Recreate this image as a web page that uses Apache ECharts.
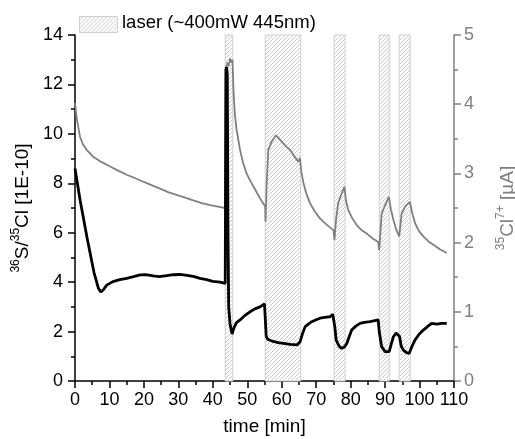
<!DOCTYPE html>
<html>
<head>
<meta charset="utf-8">
<script src="https://cdn.jsdelivr.net/npm/echarts@6/dist/echarts.min.js"></script>
<style>
html,body{margin:0;padding:0;background:#fff;}
#chart{width:515px;height:439px;}
</style>
</head>
<body>
<div id="chart"></div>
<script>
// ---- data ----
const xTicks = [0, 10, 20, 30, 40, 50, 60, 70, 80, 90, 100, 110];
const leftTicks = [0, 2, 4, 6, 8, 10, 12, 14];
const rightTicks = [0, 1, 2, 3, 4, 5];

const laserStart = [43.6, 55.2, 75.2, 88.3, 94.1];
const laserEnd   = [45.8, 65.5, 78.4, 91.2, 97.3];
const laserLabel = 'laser (~400mW 445nm)';

// 36S/35Cl ratio (left axis) - time [min]
const ratioT = [0, 1.5, 3.5, 5.5, 6.8, 7.5, 8.3, 9.2, 11, 13, 15, 17, 18.9, 20.5, 22.7, 24.5, 26.6, 28.5, 30.5, 32.5, 34.3, 36.3, 38.2, 40, 42.1, 43.6,
  43.8, 44.0, 44.2, 44.4, 44.6, 45.0, 45.6, 46.0, 46.8, 47.9, 49.3, 50.8, 52.2, 53.7, 55.0, 55.2,
  55.5, 56.0, 57.5, 59, 60.5, 62.5, 64.4, 65.3, 66.0, 66.8, 67.7, 68.7, 70, 71.1, 72.5, 74, 74.8, 75.1,
  75.4, 75.8, 76.6, 77.4, 78.2, 78.9, 79.6, 80.3, 81.5, 82.7, 84, 85.6, 87, 88.0,
  88.3, 89.0, 90, 91.2, 91.8, 92.4, 93.2, 93.7, 94.2, 94.7, 95.3, 96.2, 97.0, 97.8, 98.7, 99.8, 101.1, 102.3, 103.5, 105, 106.4, 107.9];
const ratioV = [8.6, 7.3, 5.8, 4.4, 3.75, 3.6, 3.7, 3.88, 4.02, 4.1, 4.15, 4.22, 4.29, 4.3, 4.25, 4.22, 4.26, 4.3, 4.31, 4.27, 4.23, 4.15, 4.1, 4.03, 4.0, 3.95,
  12.6, 12.7, 12.4, 6.0, 3.0, 2.3, 1.9, 2.1, 2.35, 2.47, 2.65, 2.8, 2.92, 3.0, 3.12, 3.15,
  1.8, 1.68, 1.6, 1.55, 1.52, 1.48, 1.46, 1.58, 1.9, 2.2, 2.3, 2.4, 2.48, 2.54, 2.57, 2.6, 2.7, 2.76,
  2.2, 1.66, 1.42, 1.32, 1.38, 1.52, 1.8, 2.06, 2.22, 2.33, 2.37, 2.4, 2.44, 2.47,
  2.0, 1.39, 1.19, 1.19, 1.5, 1.79, 1.94, 1.99, 1.8, 1.4, 1.25, 1.15, 1.12, 1.4, 1.66, 1.88, 2.06, 2.2, 2.33, 2.3, 2.33, 2.33];

// 35Cl7+ current (right axis) - time [min]
const currT = [0, 0.5, 1.45, 2.3, 3.4, 5.3, 7.5, 10.2, 12.5, 15, 17.5, 19.8, 22.2, 24.7, 27, 29.5, 32, 34.3, 36.8, 39.2, 41.5, 43.5,
  43.8, 44.2, 44.6, 45.0, 45.4, 45.7, 46.0, 46.4, 46.9, 47.9, 48.8, 49.8, 50.8, 51.8, 52.8, 53.7, 55.2,
  55.3, 55.6, 56.1, 57.1, 58.3, 59.3, 60.5, 61.5, 62.4, 63.6, 64.8, 65.3, 65.6, 66.3, 67.2, 68.2, 69.6, 71.1, 73, 75.0,
  75.3, 75.8, 76.4, 77.4, 78.2, 78.6, 79.3, 80.5, 81.8, 83.2, 84.7, 86.4, 88.0,
  88.3, 89.0, 90.0, 91.1, 91.7, 92.4, 93.3, 94.1, 94.8, 95.8, 97.2, 97.9, 98.7, 99.8, 101.1, 102.5, 104.0, 106, 107.9];
const currV = [4.02, 3.8, 3.53, 3.42, 3.34, 3.24, 3.17, 3.10, 3.04, 2.98, 2.93, 2.88, 2.83, 2.78, 2.73, 2.69, 2.65, 2.61, 2.57, 2.54, 2.52, 2.50,
  4.5, 4.6, 4.55, 4.66, 4.6, 4.64, 4.2, 3.85, 3.63, 3.34, 3.15, 3.0, 2.9, 2.81, 2.72, 2.64, 2.52,
  2.30, 2.8, 3.34, 3.46, 3.55, 3.5, 3.43, 3.38, 3.34, 3.25, 3.17, 3.22, 3.05, 2.86, 2.7, 2.57, 2.45, 2.35, 2.26, 2.18,
  2.04, 2.35, 2.57, 2.71, 2.81, 2.62, 2.47, 2.35, 2.25, 2.18, 2.13, 2.06, 2.01,
  1.89, 2.42, 2.54, 2.66, 2.48, 2.33, 2.18, 2.09, 2.42, 2.52, 2.59, 2.42, 2.28, 2.17, 2.09, 2.02, 1.97, 1.9, 1.85];

// ---- hatch pattern ----
function makeHatch() {
  const s = 4;
  const c = document.createElement('canvas');
  c.width = s; c.height = s;
  const g = c.getContext('2d');
  g.fillStyle = '#ffffff';
  g.fillRect(0, 0, s, s);
  g.strokeStyle = '#c4c4c4';
  g.lineWidth = 0.9;
  g.beginPath();
  g.moveTo(0, s); g.lineTo(s, 0);
  g.moveTo(-1, 1); g.lineTo(1, -1);
  g.moveTo(s - 1, s + 1); g.lineTo(s + 1, s - 1);
  g.stroke();
  return c;
}
const hatch = makeHatch();
const hatchFill = { image: hatch, repeat: 'repeat' };

const FONT = "'Liberation Sans', Arial, sans-serif";
const GRAY = '#808080';

const ratioData = ratioT.map((t, i) => [t, ratioV[i]]);
const currData = currT.map((t, i) => [t, currV[i]]);
const laserData = laserStart.map((s, i) => [s, laserEnd[i]]);

const chart = echarts.init(document.getElementById('chart'), null, { renderer: 'canvas' });
const option = {
  animation: false,
  backgroundColor: '#ffffff',
  grid: { left: 75, right: 61, top: 35, bottom: 58, containLabel: false, outerBoundsMode: 'none' },
  xAxis: {
    type: 'value', min: xTicks[0], max: xTicks[xTicks.length - 1], interval: 10,
    name: 'time [min]', nameLocation: 'middle', nameGap: 36,
    nameTextStyle: { fontFamily: FONT, fontSize: 19, color: '#000' },
    axisLine: { show: true, lineStyle: { color: '#000', width: 1.5 } },
    axisTick: { show: true, inside: false, length: 7, lineStyle: { color: '#000', width: 1.5 } },
    minorTick: { show: true, splitNumber: 2, length: 4, lineStyle: { color: '#000', width: 1.5 } },
    axisLabel: { fontFamily: FONT, fontSize: 18, color: '#000', margin: 10 },
    splitLine: { show: false }
  },
  yAxis: [
    {
      type: 'value', min: leftTicks[0], max: leftTicks[leftTicks.length - 1], interval: 2, position: 'left',
      name: '{sup|36}{n|S/}{sup|35}{n|Cl [1E-10]}', nameLocation: 'middle', nameGap: 33,
      nameTextStyle: {
        fontFamily: FONT, fontSize: 19, color: '#000',
        rich: {
          n: { fontFamily: FONT, fontSize: 19, color: '#000', lineHeight: 22, verticalAlign: 'bottom' },
          sup: { fontFamily: FONT, fontSize: 12, color: '#000', lineHeight: 22, verticalAlign: 'top' }
        }
      },
      axisLine: { show: true, lineStyle: { color: '#000', width: 1.5 } },
      axisTick: { show: true, inside: false, length: 7, lineStyle: { color: '#000', width: 1.5 } },
      minorTick: { show: true, splitNumber: 2, length: 4, lineStyle: { color: '#000', width: 1.5 } },
      axisLabel: { fontFamily: FONT, fontSize: 18, color: '#000', margin: 12 },
      splitLine: { show: false }
    },
    {
      type: 'value', min: rightTicks[0], max: rightTicks[rightTicks.length - 1], interval: 1, position: 'right',
      name: '{sup|35}{n|Cl}{sup|7+}{n| [µA]}', nameLocation: 'middle', nameGap: 41,
      nameTextStyle: {
        fontFamily: FONT, fontSize: 19, color: GRAY,
        rich: {
          n: { fontFamily: FONT, fontSize: 19, color: GRAY, lineHeight: 22, verticalAlign: 'bottom' },
          sup: { fontFamily: FONT, fontSize: 12, color: GRAY, lineHeight: 22, verticalAlign: 'top' }
        }
      },
      axisLine: { show: true, lineStyle: { color: GRAY, width: 1.5 } },
      axisTick: { show: true, inside: false, length: 7, lineStyle: { color: GRAY, width: 1.5 } },
      minorTick: { show: true, splitNumber: 2, length: 4, lineStyle: { color: GRAY, width: 1.5 } },
      axisLabel: { fontFamily: FONT, fontSize: 18, color: GRAY, margin: 10 },
      splitLine: { show: false }
    }
  ],
  series: [
    {
      name: laserLabel,
      type: 'custom',
      xAxisIndex: 0, yAxisIndex: 0,
      z: 1,
      data: laserData,
      renderItem: function (params, api) {
        const x1 = api.coord([api.value(0), 0])[0];
        const x2 = api.coord([api.value(1), 0])[0];
        const cs = params.coordSys;
        return {
          type: 'rect',
          shape: { x: x1, y: cs.y, width: x2 - x1, height: cs.height },
          style: { fill: hatchFill, stroke: '#d0d0d0', lineWidth: 1 }
        };
      },
      silent: true
    },
    {
      name: 'ratio', type: 'line', xAxisIndex: 0, yAxisIndex: 0, z: 3,
      data: ratioData, showSymbol: false, symbol: 'none',
      lineStyle: { color: '#000', width: 2.8 }, silent: true
    },
    {
      name: 'current', type: 'line', xAxisIndex: 0, yAxisIndex: 1, z: 2,
      data: currData, showSymbol: false, symbol: 'none',
      lineStyle: { color: GRAY, width: 1.8 }, silent: true
    }
  ],
  graphic: [
    {
      type: 'rect', left: 79, top: 16, shape: { width: 38, height: 16 },
      style: { fill: hatchFill, stroke: '#d0d0d0', lineWidth: 1 }
    },
    {
      type: 'text', left: 122, top: 13,
      style: { text: laserLabel, fontFamily: FONT, fontSize: 18.5, fill: '#000' }
    }
  ]
};
chart.setOption(option);
</script>
</body>
</html>
